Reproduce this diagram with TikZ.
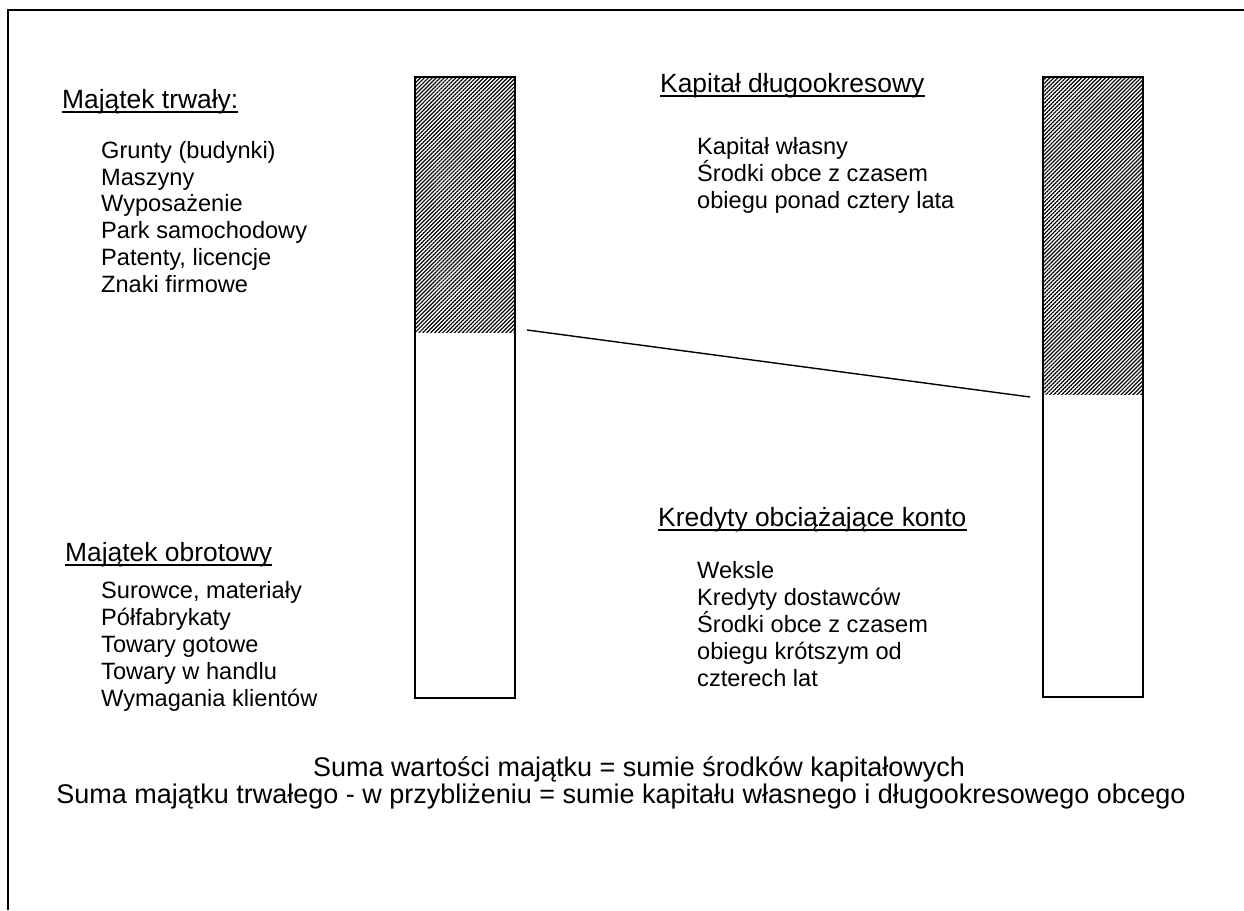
\documentclass[tikz,border=0pt]{standalone}
\usepackage{fontspec}
\setmainfont{Liberation Sans}
\usetikzlibrary{patterns.meta}
\begin{document}
\begin{tikzpicture}[x=1pt,y=-1pt,
  txt/.style={anchor=base west, inner sep=0pt, font=\fontsize{23.6}{27}\selectfont},
  head/.style={anchor=base west, inner sep=0pt, font=\fontsize{26.4}{30}\selectfont},
  ctr/.style={anchor=base, inner sep=0pt, font=\fontsize{27}{30}\selectfont},
  uline/.style={line width=1.8pt},
  barline/.style={line width=2pt},
  hatch/.style={pattern={Lines[angle=45,distance=2.8pt,line width=1.2pt]}},
  frame/.style={line width=2pt}]
\useasboundingbox (0,0) rectangle (1244,910);
% frame
\draw[frame] (8,910) -- (8,10) -- (1244,10);
% left bar
\fill[hatch] (415,77) rectangle (515,332);
\draw[barline] (415,332) -- (415,77) -- (515,77) -- (515,332);
\draw[barline] (415,332) -- (415,698) -- (515,698) -- (515,332);
% right bar
\fill[hatch] (1043,77) rectangle (1143,394);
\draw[barline] (1043,394) -- (1043,77) -- (1143,77) -- (1143,394);
\draw[barline] (1043,394) -- (1043,697) -- (1143,697) -- (1143,394);
% connector
\coordinate (la) at (527,330);
\coordinate (lb) at (1030,397);
\draw[line width=1.4pt] (la) -- (lb);
% headings
\node[head] (h1) at (62,108) {Majątek trwały:};
\node[head] (h2) at (65,561) {Majątek obrotowy};
\node[head] (h3) at (660,92) {Kapitał długookresowy};
\node[head] (h4) at (658,526) {Kredyty obciążające konto};
\foreach \h in {h1,h2,h3,h4}
  \draw[uline] ([yshift=-4pt]\h.base west) -- ([yshift=-4pt]\h.base east);
% left upper list
\node[txt] (a1) at (101,158) {Grunty (budynki)};
\node[txt] (a2) at (101,185) {Maszyny};
\node[txt] (a3) at (101,211) {Wyposażenie};
\node[txt] (a4) at (101,238) {Park samochodowy};
\node[txt] (a5) at (101,265) {Patenty, licencje};
\node[txt] (a6) at (101,292) {Znaki firmowe};
% left lower list
\node[txt] (b1) at (101,598) {Surowce, materiały};
\node[txt] (b2) at (101,625) {Półfabrykaty};
\node[txt] (b3) at (101,652) {Towary gotowe};
\node[txt] (b4) at (101,679) {Towary w handlu};
\node[txt] (b5) at (101,706) {Wymagania klientów};
% right upper list
\node[txt] (c1) at (697,154) {Kapitał własny};
\node[txt] (c2) at (697,181) {Środki obce z czasem};
\node[txt] (c3) at (697,208) {obiegu ponad cztery lata};
% right lower list
\node[txt] (d1) at (697,578) {Weksle};
\node[txt] (d2) at (697,605) {Kredyty dostawców};
\node[txt] (d3) at (697,632) {Środki obce z czasem};
\node[txt] (d4) at (697,659) {obiegu krótszym od};
\node[txt] (d5) at (697,686) {czterech lat};
% bottom
\node[ctr] (s1) at (639,776) {Suma wartości majątku = sumie środków kapitałowych};
\node[ctr] (s2) at (621,803) {Suma majątku trwałego - w przybliżeniu = sumie kapitału własnego i długookresowego obcego};
\end{tikzpicture}
\end{document}
